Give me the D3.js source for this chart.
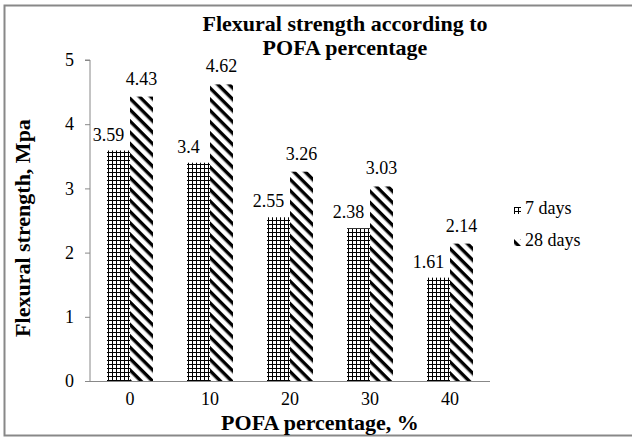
<!DOCTYPE html>
<html>
<head>
<meta charset="utf-8">
<script src="https://cdn.jsdelivr.net/npm/d3@7"></script>
<style>
  body { margin: 0; background: #fff; }
  svg text { font-family: "Liberation Serif", "Times New Roman", serif; fill: #000; }
</style>
</head>
<body>
<div id="chart"></div>
<script>
// données
const categories = ['0', '10', '20', '30', '40'];
const series = ['7 days', '28 days'];
const days7 = [3.59, 3.4, 2.55, 2.38, 1.61];
const days28 = [4.43, 4.62, 3.26, 3.03, 2.14];
const yTicks = [0, 1, 2, 3, 4, 5];

const W = 632, H = 438;
const mLeft = 90, mRight = 490, mTop = 60, mBottom = 381;
const SERIF = '"Liberation Serif", "Times New Roman", serif';

const svg = d3.select('#chart').append('svg').attr('width', W).attr('height', H);

// ── motifs ─────────────────────────────────────
const defs = svg.append('defs');
const grid = defs.append('pattern').attr('id', 'grid')
  .attr('patternUnits', 'userSpaceOnUse').attr('width', 4).attr('height', 4);
grid.append('rect').attr('width', 4).attr('height', 4).attr('fill', '#fff');
grid.append('path').attr('d', 'M0,0.5H4M0.5,0V4').attr('stroke', '#000').attr('stroke-width', 1);

const diag = defs.append('pattern').attr('id', 'diag')
  .attr('patternUnits', 'userSpaceOnUse').attr('width', 8).attr('height', 8)
  .attr('patternTransform', 'rotate(45)');
diag.append('rect').attr('width', 8).attr('height', 8).attr('fill', '#fff');
diag.append('rect').attr('width', 8).attr('height', 3.4).attr('fill', '#000');

const fills = ['url(#grid)', 'url(#diag)'];

// cadre
svg.append('rect').attr('x', 4.5).attr('y', 5.5).attr('width', 630).attr('height', 430)
  .attr('fill', 'none').attr('stroke', '#888').attr('stroke-width', 2);

// ── échelles ───────────────────────────────────
const x = d3.scaleBand().domain(categories).range([mLeft, mRight]).paddingInner(0.425).paddingOuter(0.2125);
const xs = d3.scaleBand().domain(series).range([0, x.bandwidth()]);
const y = d3.scaleLinear().domain([0, 5]).range([mBottom, mTop]);

const xBand = d3.scaleBand().domain(categories).range([mLeft, mRight]);

// axes
svg.append('g').attr('transform', `translate(0,${mBottom})`)
  .call(d3.axisBottom(xBand).tickSize(0).tickPadding(11))
  .call(g => g.attr('font-family', null))
  .call(g => g.select('.domain').attr('stroke', '#888').attr('d', `M${mLeft},0.5H${mRight}`))
  .selectAll('text').attr('font-size', 18).style('font-family', SERIF);

svg.append('g').attr('transform', `translate(${mLeft},0)`)
  .call(d3.axisLeft(y).tickValues(yTicks).tickFormat(d3.format('d')).tickSize(5).tickPadding(11))
  .call(g => g.attr('font-family', null))
  .call(g => g.select('.domain').attr('stroke', '#888').attr('d', `M-5,${mTop}H0V${mBottom}`))
  .call(g => g.selectAll('.tick line').attr('stroke', '#888'))
  .selectAll('text').attr('font-size', 18).style('font-family', SERIF);

// ── barres ─────────────────────────────────────
const data = categories.flatMap((c, i) => [
  { c, s: series[0], v: days7[i], k: 0 },
  { c, s: series[1], v: days28[i], k: 1 },
]);

svg.selectAll('.bar').data(data).join('rect')
  .attr('class', 'bar')
  .attr('x', d => x(d.c) + xs(d.s))
  .attr('y', d => y(d.v))
  .attr('width', xs.bandwidth())
  .attr('height', d => y(0) - y(d.v))
  .attr('fill', d => fills[d.k]);

svg.selectAll('.lbl').data(data).join('text')
  .attr('class', 'lbl')
  .attr('x', d => x(d.c) + xs(d.s) + xs.bandwidth() / 2 + (d.k === 0 ? -10 : 0))
  .attr('y', d => y(d.v) - (d.k === 0 ? 10 : 12))
  .attr('text-anchor', 'middle')
  .attr('font-size', 18)
  .text(d => d.v);

// ── titres ─────────────────────────────────────
svg.append('text').attr('x', 345).attr('y', 31).attr('text-anchor', 'middle')
  .attr('font-size', 22).attr('font-weight', 'bold').text('Flexural strength according to');
svg.append('text').attr('x', 345).attr('y', 55).attr('text-anchor', 'middle')
  .attr('font-size', 22).attr('font-weight', 'bold').text('POFA percentage');

svg.append('text').attr('transform', `translate(30,228) rotate(-90)`)
  .attr('text-anchor', 'middle').attr('font-size', 22).attr('font-weight', 'bold')
  .text('Flexural strength, Mpa');

svg.append('text').attr('x', 320).attr('y', 430).attr('text-anchor', 'middle')
  .attr('font-size', 22).attr('font-weight', 'bold').text('POFA percentage, %');

// ── légende ────────────────────────────────────
const leg = svg.selectAll('.leg').data(series).join('g')
  .attr('class', 'leg')
  .attr('transform', (d, i) => `translate(514,${207 + i * 32})`);
leg.append('rect').attr('width', 7).attr('height', 7).attr('fill', (d, i) => fills[i]);
leg.append('text').attr('x', 11).attr('y', 7).attr('font-size', 18).text(d => d);
</script>
</body>
</html>
